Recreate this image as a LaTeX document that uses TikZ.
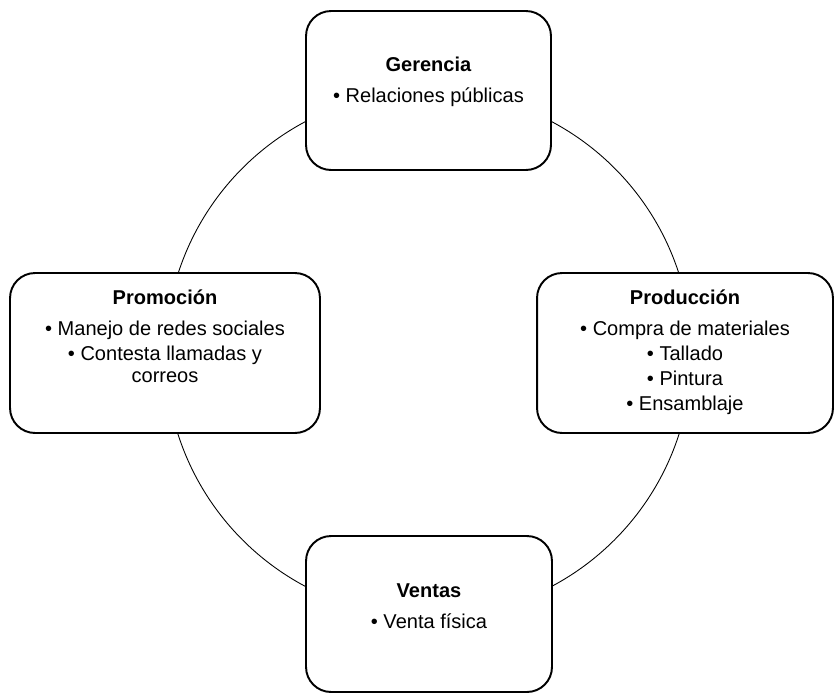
\documentclass[tikz,border=0pt]{standalone}
\usepackage{fontspec}
\setmainfont{Liberation Sans}
\usetikzlibrary{positioning}

\begin{document}
\begin{tikzpicture}[
    x=0.02cm, y=-0.02cm,
    area/.style  = {draw, line width=1.1pt, rounded corners=0.5cm, fill=white,
                    align=center, inner sep=0pt,
                    font=\fontsize{11.4}{12.5}\selectfont},
    loopline/.style = {draw, line width=0.5pt}
]
\useasboundingbox (0,0) rectangle (835,694);

% =========================================================
% CYCLE
% =========================================================
\coordinate (hub) at (428.5,354);
\path[loopline] (hub) circle[radius=5.26cm];

% =========================================================
% GERENCIA
% =========================================================
\node[area, minimum width=4.9cm, minimum height=3.18cm, text depth=0.42cm]
  (gerencia) at (428.5,90.5)
  {\textbf{Gerencia}\\[0.18cm] • Relaciones públicas};

% =========================================================
% PROMOCION
% =========================================================
\node[area, minimum width=6.2cm, minimum height=3.2cm, text depth=0.68cm]
  (promocion) at (165,353)
  {\textbf{Promoción}\\[0.18cm] • Manejo de redes sociales\\[0.06cm]
   • Contesta llamadas y\\ correos};

% =========================================================
% PRODUCCION
% =========================================================
\node[area, minimum width=5.92cm, minimum height=3.2cm, text depth=0.12cm]
  (produccion) at (685,353)
  {\textbf{Producción}\\[0.18cm] • Compra de materiales\\[0.06cm]
   • Tallado\\[0.06cm] • Pintura\\[0.06cm] • Ensamblaje};

% =========================================================
% VENTAS
% =========================================================
\node[area, minimum width=4.92cm, minimum height=3.12cm, text depth=0.32cm]
  (ventas) at (429,614)
  {\textbf{Ventas}\\[0.18cm] • Venta física};

\end{tikzpicture}
\end{document}
